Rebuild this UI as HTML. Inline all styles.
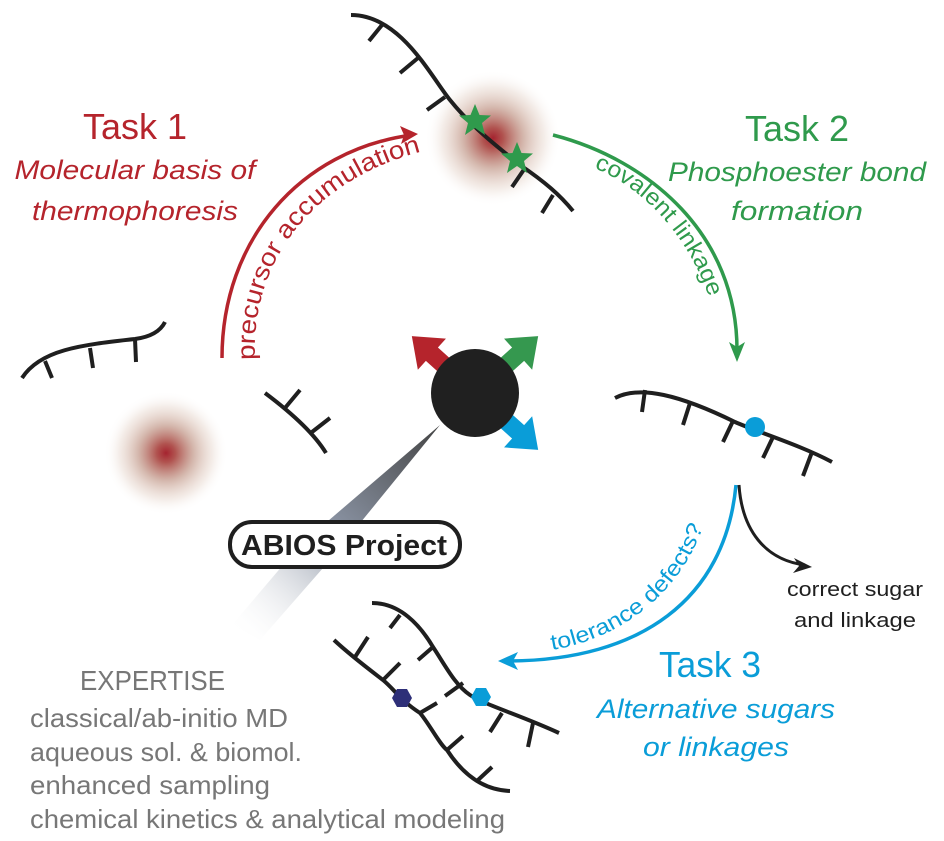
<!DOCTYPE html>
<html><head><meta charset="utf-8"><style>
html,body{margin:0;padding:0;background:#fff;}
svg{display:block;font-family:"Liberation Sans",sans-serif;}
</style></head><body>
<svg width="944" height="841" viewBox="0 0 944 841">
<defs>
<radialGradient id="blur">
<stop offset="0" stop-color="#a5232f"/>
<stop offset="0.15" stop-color="#a8403c" stop-opacity="0.9"/>
<stop offset="0.45" stop-color="#b27d6a" stop-opacity="0.55"/>
<stop offset="0.75" stop-color="#d2b4a2" stop-opacity="0.25"/>
<stop offset="1" stop-color="#fff" stop-opacity="0"/>
</radialGradient>
<linearGradient id="wedge" x1="440" y1="425" x2="240" y2="640" gradientUnits="userSpaceOnUse">
<stop offset="0" stop-color="#444"/>
<stop offset="0.5" stop-color="#8a93a3"/>
<stop offset="1" stop-color="#fff" stop-opacity="0"/>
</linearGradient>
</defs>

<!-- blurs -->
<circle cx="493" cy="138" r="68" fill="url(#blur)"/>
<circle cx="166" cy="453" r="62" fill="url(#blur)"/>

<!-- wedge -->
<polygon points="440,425 300,545 232,625 260,640 330,560" fill="url(#wedge)"/>

<g fill="none" stroke="#1f1f1f" stroke-width="4" stroke-linecap="butt">
<!-- top strand -->
<path d="M351,15 C400,15 430,75 450,100 C470,125 495,145 520,165 C545,182 560,195 573,211"/>
<path d="M382,25 L369,41 M418,58 L400,73 M445,97 L427,110 M525,168 L512,187 M553,195 L542,213"/>
<!-- left strand -->
<path d="M22,378 C40,350 80,345 135,339 C150,337 160,332 165,322"/>
<path d="M45,361 L52,378 M90,348 L93,368 M135,339 L136,362"/>
<!-- mid small strand -->
<path d="M265,393 C285,408 312,430 326,453"/>
<path d="M285,408 L300,390 M312,432 L330,418"/>
<!-- right strand -->
<path d="M615,398 C640,385 680,395 735,422 C760,433 800,445 832,462"/>
<path d="M645,390 L642,412 M690,403 L683,425 M733,421 L723,442 M773,437 L763,458 M812,452 L803,476"/>
<!-- bottom strands -->
<path d="M372,603 C400,603 420,625 433,647 C445,665 455,685 470,695 C485,705 520,715 559,733"/>
<path d="M334,640 C350,655 370,670 383,680 C395,690 400,700 420,713 C430,725 440,745 447,750 C460,770 480,790 510,791"/>
<path d="M400,615 L390,628 M433,647 L418,660 M463,683 L445,696 M437,703 L420,713 M355,657 L368,637 M383,680 L400,663 M447,750 L463,736 M478,780 L492,767 M502,713 L490,732 M533,723 L528,747"/>
</g>

<!-- stars -->
<g fill="#2f9a4c">
<polygon points="0,-17 4.5,-6 16,-5.5 7,2 10,14 0,7 -10,14 -7,2 -16,-5.5 -4.5,-6" transform="translate(475 121)"/>
<polygon points="0,-17 4.5,-6 16,-5.5 7,2 10,14 0,7 -10,14 -7,2 -16,-5.5 -4.5,-6" transform="translate(517 159)"/>
</g>

<!-- hexagons and dots -->
<polygon points="-10,0 -5,-9 5,-9 10,0 5,9 -5,9" fill="#2e2f78" transform="translate(402 698)"/>
<polygon points="-10,0 -5,-9 5,-9 10,0 5,9 -5,9" fill="#0a9dd8" transform="translate(481 697)"/>
<circle cx="755" cy="427" r="10" fill="#0a9dd8"/>

<!-- center arrows -->
<g transform="translate(475 393)">
<polygon transform="rotate(-48)" points="-9,-30 9,-30 9,-58 21,-58 0,-85 -21,-58 -9,-58" fill="#b5242c"/>
<polygon transform="rotate(48)" points="-9,-30 9,-30 9,-58 21,-58 0,-85 -21,-58 -9,-58" fill="#35984f"/>
<polygon transform="rotate(132)" points="-9,-30 9,-30 9,-58 21,-58 0,-85 -21,-58 -9,-58" fill="#0a9dd8"/>
<circle r="44" fill="#202020"/>
</g>

<!-- arcs -->
<path d="M222,358 C222,240 300,150 412,135" fill="none" stroke="#b5242c" stroke-width="3.5"/>
<polygon points="418,134 400,126 404,135 401,144" fill="#b5242c"/>
<path d="M553,135 C650,160 737,235 737,350" fill="none" stroke="#2f9a4c" stroke-width="3.5"/>
<polygon points="737,362 729,342 737,347 745,342" fill="#2f9a4c"/>
<path d="M736,485 C725,600 640,660 510,661" fill="none" stroke="#0a9dd8" stroke-width="3.5"/>
<polygon points="498,661 518,652 513,661 518,670" fill="#0a9dd8"/>
<path d="M739,485 C742,530 765,560 805,565" fill="none" stroke="#1f1f1f" stroke-width="3"/>
<polygon points="812,567 794,558 799,566 793,573" fill="#1f1f1f"/>

<!-- arc labels -->
<path id="pr" d="M255,360 C250,255 320,178 420,152" fill="none"/>
<text font-size="25" fill="#b5242c"><textPath href="#pr" textLength="290" lengthAdjust="spacingAndGlyphs">precursor accumulation</textPath></text>
<path id="gr" d="M594,168 C650,190 700,250 716,322" fill="none"/>
<text font-size="23" fill="#2f9a4c"><textPath href="#gr" textLength="178" lengthAdjust="spacingAndGlyphs">covalent linkage</textPath></text>
<path id="br" d="M552,650 C640,635 702,570 712,488" fill="none"/>
<text font-size="22" fill="#0a9dd8"><textPath href="#br" textLength="205" lengthAdjust="spacingAndGlyphs">tolerance defects?</textPath></text>

<!-- titles -->
<g text-anchor="middle" lengthAdjust="spacingAndGlyphs">
<text x="135" y="139" font-size="36" fill="#b5242c" textLength="104" lengthAdjust="spacingAndGlyphs">Task 1</text>
<text x="135" y="179" font-size="27" font-style="italic" fill="#b5242c" textLength="241" lengthAdjust="spacingAndGlyphs">Molecular basis of</text>
<text x="135" y="220" font-size="27" font-style="italic" fill="#b5242c" textLength="206" lengthAdjust="spacingAndGlyphs">thermophoresis</text>
<text x="797" y="141" font-size="36" fill="#2f9a4c" textLength="104" lengthAdjust="spacingAndGlyphs">Task 2</text>
<text x="797" y="181" font-size="27" font-style="italic" fill="#2f9a4c" textLength="258" lengthAdjust="spacingAndGlyphs">Phosphoester bond</text>
<text x="797" y="220" font-size="27" font-style="italic" fill="#2f9a4c" textLength="132" lengthAdjust="spacingAndGlyphs">formation</text>
<text x="710" y="677" font-size="36" fill="#0a9dd8" textLength="102" lengthAdjust="spacingAndGlyphs">Task 3</text>
<text x="716" y="718" font-size="27" font-style="italic" fill="#0a9dd8" textLength="238" lengthAdjust="spacingAndGlyphs">Alternative sugars</text>
<text x="716" y="756" font-size="27" font-style="italic" fill="#0a9dd8" textLength="146" lengthAdjust="spacingAndGlyphs">or linkages</text>
<text x="855" y="596" font-size="20" fill="#1f1f1f" textLength="136" lengthAdjust="spacingAndGlyphs">correct sugar</text>
<text x="855" y="627" font-size="20" fill="#1f1f1f" textLength="122" lengthAdjust="spacingAndGlyphs">and linkage</text>
</g>

<!-- ABIOS -->
<rect x="230" y="522" width="230" height="45" rx="22" fill="#fff" stroke="#1f1f1f" stroke-width="4"/>
<text x="344" y="555" text-anchor="middle" font-size="29" font-weight="bold" fill="#1f1f1f" textLength="206" lengthAdjust="spacingAndGlyphs">ABIOS Project</text>

<!-- expertise -->
<g fill="#777" font-size="26">
<text x="80" y="690" font-size="28" textLength="145" lengthAdjust="spacingAndGlyphs">EXPERTISE</text>
<text x="30" y="727" textLength="258" lengthAdjust="spacingAndGlyphs">classical/ab-initio MD</text>
<text x="30" y="761" textLength="272" lengthAdjust="spacingAndGlyphs">aqueous sol. &amp; biomol.</text>
<text x="30" y="794" textLength="240" lengthAdjust="spacingAndGlyphs">enhanced sampling</text>
<text x="30" y="828" textLength="475" lengthAdjust="spacingAndGlyphs">chemical kinetics &amp; analytical modeling</text>
</g>
</svg>
</body></html>
